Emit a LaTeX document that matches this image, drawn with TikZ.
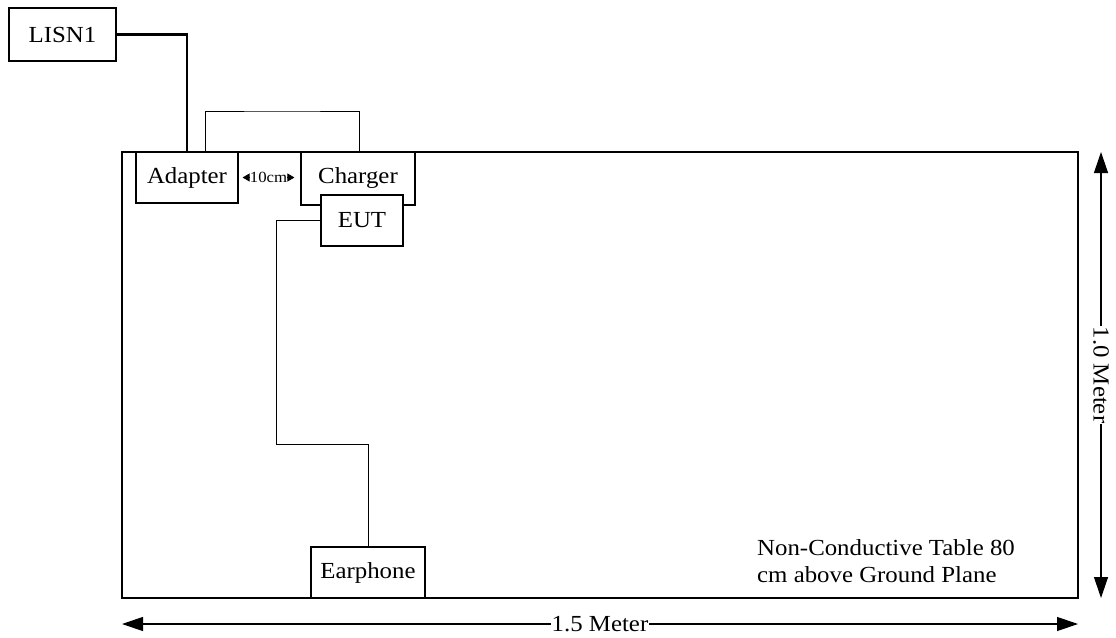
\documentclass[tikz,border=0pt]{standalone}
\usepackage{fontspec}
\setmainfont{Liberation Serif}[FakeStretch=1.08]
\usetikzlibrary{arrows.meta}
\begin{document}
\begin{tikzpicture}[x=1pt,y=-1pt,
  box/.style={draw,line width=1.2pt,fill=white,rectangle,inner sep=0pt,font=\fontsize{23}{27}\selectfont},
  thin/.style={line width=0.8pt},
  thick3/.style={line width=2.8pt},
  dim/.style={line width=1.2pt,{Triangle[length=21pt,width=14pt]}-{Triangle[length=21pt,width=14pt]}},
  lbl/.style={font=\fontsize{23}{27}\selectfont}]
\useasboundingbox (0,0) rectangle (1116,637);
% table
\node[draw,line width=2.8pt,minimum width=956pt,minimum height=446pt,inner sep=0pt] (table) at (600,375) {};
% boxes
\node[box,minimum width=107pt,minimum height=53pt] (lisn) at (62.5,34.5) {LISN1};
\node[box,minimum width=102pt,minimum height=51pt] (adapter) at (187,177.5) {Adapter};
\node[box,minimum width=114pt,minimum height=53pt] (charger) at (358,178.5) {Charger};
\node[box,minimum width=82pt,minimum height=51pt] (eut) at (362,220.5) {EUT};
\node[box,minimum width=114pt,minimum height=51pt] (earphone) at (368,572.5) {Earphone};
% connectors
\draw[thick3] (lisn.east) -| (adapter.north);
\coordinate (acTop) at (282,111);
\draw[thin] ([xshift=18pt]adapter.north) |- (acTop) -| ([xshift=1pt]charger.north);
\coordinate (bend) at (276,444);
\draw[thin] (eut.west) -| (bend) -| (earphone.north);
\draw[line width=0.8pt,{Triangle[length=7pt,width=8pt]}-{Triangle[length=7pt,width=8pt]}] ([xshift=4pt]adapter.east) -- node[fill=white,inner sep=0.3pt,font=\fontsize{15.5}{18}\selectfont]{10cm} ([xshift=-6pt]adapter.east -| charger.west);
% dimensions
\coordinate (h1) at (122,624);
\coordinate (h2) at (1078,624);
\draw[dim] (h1) -- node[fill=white,inner sep=1pt,lbl]{1.5 Meter} (h2);
\coordinate (v1) at (1101,152);
\coordinate (v2) at (1101,598);
\draw[dim] (v1) -- node[fill=white,inner sep=1pt,lbl,rotate=-90]{1.0 Meter} (v2);
\node[lbl,anchor=west,align=left,inner sep=0pt] (note) at (757,561) {Non-Conductive Table 80\\cm above Ground Plane};
\end{tikzpicture}
\end{document}
